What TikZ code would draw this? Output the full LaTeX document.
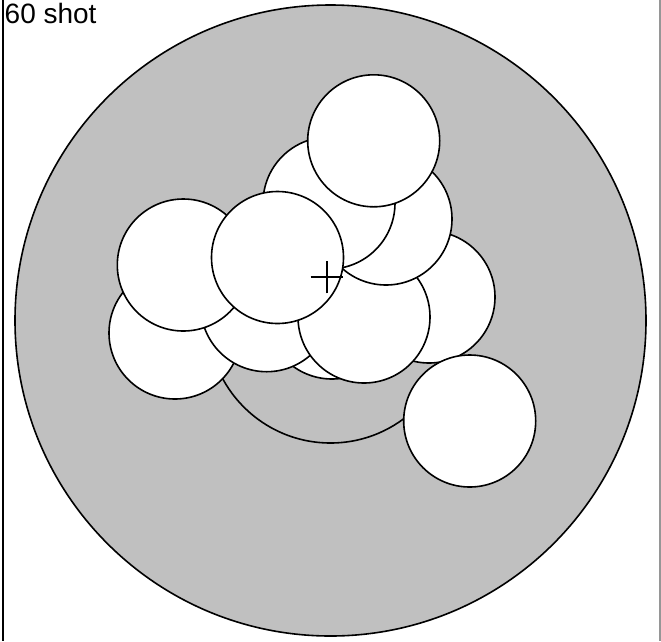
\documentclass[tikz,border=0pt]{standalone}
\usepackage{fontspec}
\setmainfont{Liberation Sans}
\definecolor{targetgray}{RGB}{192,192,192}
\definecolor{framegray}{RGB}{150,150,150}
\begin{document}
\begin{tikzpicture}[x=1pt,y=-1pt,
  shot/.style={draw=black,line width=1.6pt,fill=white},
  ring/.style={draw=black,line width=1.6pt}]
\useasboundingbox (0,0) rectangle (661,641);
% frame lines
\draw[line width=2pt,black] (3,0) -- (3,641);
\draw[line width=1.5pt,framegray] (660,0) -- (660,641);
% target
\coordinate (c) at (330.5,320.5);
\draw[ring,fill=targetgray] (c) circle (315.5);
\draw[ring] (c) circle (122.5);
% shots (bottom to top)
\draw[shot] (332,313) circle (66);   % H
\draw[shot] (175,333) circle (66);   % E
\draw[shot] (266.7,305.7) circle (66); % G
\draw[shot] (183.3,265) circle (66); % D
\draw[shot] (429,297) circle (66);   % J
\draw[shot] (364,317) circle (66);   % I
\draw[shot] (386,219) circle (66);   % C
\draw[shot] (329,203) circle (66);   % B
\draw[shot] (277.5,257.5) circle (66); % F
\draw[shot] (373.7,140.8) circle (66); % A
\draw[shot] (469.7,421) circle (66); % K
% mean point of impact
\coordinate (m) at (326.7,277.3);
\draw[line width=2pt] ([xshift=-16pt]m) -- ([xshift=16pt]m);
\draw[line width=2pt] ([yshift=-16pt]m) -- ([yshift=16pt]m);
% label
\node[anchor=base west,inner sep=0pt,font=\fontsize{28}{28}\selectfont] (lbl) at (4.5,23.5) {60 shot};
\end{tikzpicture}
\end{document}
